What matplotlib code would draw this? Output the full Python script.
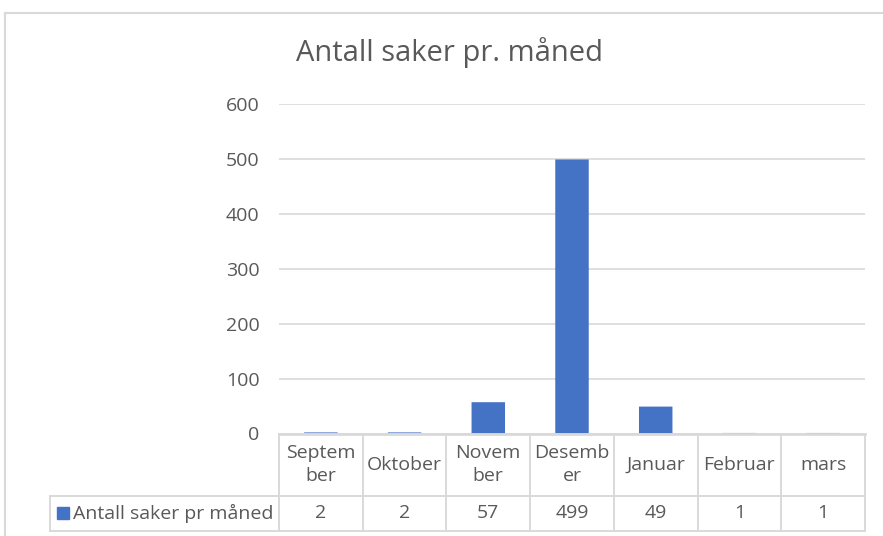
import matplotlib.pyplot as plt
from matplotlib.lines import Line2D

# Data
months = ['Septem\nber', 'Oktober', 'Novem\nber', 'Desemb\ner', 'Januar', 'Februar', 'mars']
counts = [2, 2, 57, 499, 49, 1, 1]
series_name = 'Antall saker pr måned'
title = 'Antall saker pr. måned'
yticks = [0, 100, 200, 300, 400, 500, 600]

bar_color = '#4472C4'
text_color = '#595959'
line_color = '#D9D9D9'

plt.rcParams['font.family'] = ['Open Sans', 'DejaVu Sans']

W, H = 883, 536
fig = plt.figure(figsize=(W / 100, H / 100), dpi=100)

# plot area in pixel coords
left, right, top, bottom = 279, 865, 104, 433.5
ax = fig.add_axes([left / W, 1 - bottom / H, (right - left) / W, (bottom - top) / H])

x = list(range(len(months)))
ax.bar(x, counts, width=0.4, color=bar_color, zorder=3, snap=False)
ax.set_xlim(-0.5, len(months) - 0.5)
ax.set_ylim(0, 600)
ax.set_yticks(yticks)
ax.set_yticklabels([str(v) for v in yticks], fontsize=14, color=text_color)
ax.tick_params(axis='y', length=0, pad=14)
ax.set_xticks([])
ax.grid(axis='y', color=line_color, linewidth=1.2, zorder=0)
for s in ax.spines.values():
    s.set_visible(False)

fig.text(450 / W, 1 - 53 / H, title, ha='center', va='center', fontsize=21, color=text_color)

# data table below the plot area
trans = ax.get_xaxis_transform()
ah = bottom - top
head_h = 62 / ah
row_h = 35 / ah
cat_w = (right - left) / len(months)
leg_x = -0.5 - (left - 50) / cat_w
y_mid = -head_h
y_bot = -head_h - row_h
x0, x1 = -0.5, len(months) - 0.5

kw = dict(transform=trans, color=line_color, linewidth=1.4, clip_on=False, zorder=4)
ax.add_line(Line2D([x0, x1], [0, 0], **{**kw, 'linewidth': 2.0}))
ax.add_line(Line2D([leg_x, x1], [y_mid, y_mid], **kw))
ax.add_line(Line2D([leg_x, x1], [y_bot, y_bot], **kw))
ax.add_line(Line2D([leg_x, leg_x], [y_mid, y_bot], **kw))
for i in range(len(months) + 1):
    xi = i - 0.5
    ax.add_line(Line2D([xi, xi], [0, y_bot], **kw))

for i, (m, c) in enumerate(zip(months, counts)):
    ax.text(i, -head_h / 2, m, transform=trans, ha='center', va='center',
            fontsize=14, color=text_color, linespacing=1.3)
    ax.text(i, (y_mid + y_bot) / 2, str(c), transform=trans, ha='center', va='center',
            fontsize=14, color=text_color)

# legend key in the table
ax.plot([leg_x + 0.16], [(y_mid + y_bot) / 2], marker='s', markersize=8, color=bar_color,
        transform=trans, clip_on=False, linestyle='none')
ax.text(leg_x + 0.28, (y_mid + y_bot) / 2, series_name, transform=trans, ha='left',
        va='center', fontsize=14, color=text_color)

# chart frame
fig.add_artist(Line2D([5 / W, 5 / W], [0, 1 - 13 / H], color=line_color, linewidth=1.5,
                      transform=fig.transFigure))
fig.add_artist(Line2D([5 / W, 1], [1 - 13 / H, 1 - 13 / H], color=line_color, linewidth=1.5,
                      transform=fig.transFigure))

fig.savefig('out.png', dpi=100)
